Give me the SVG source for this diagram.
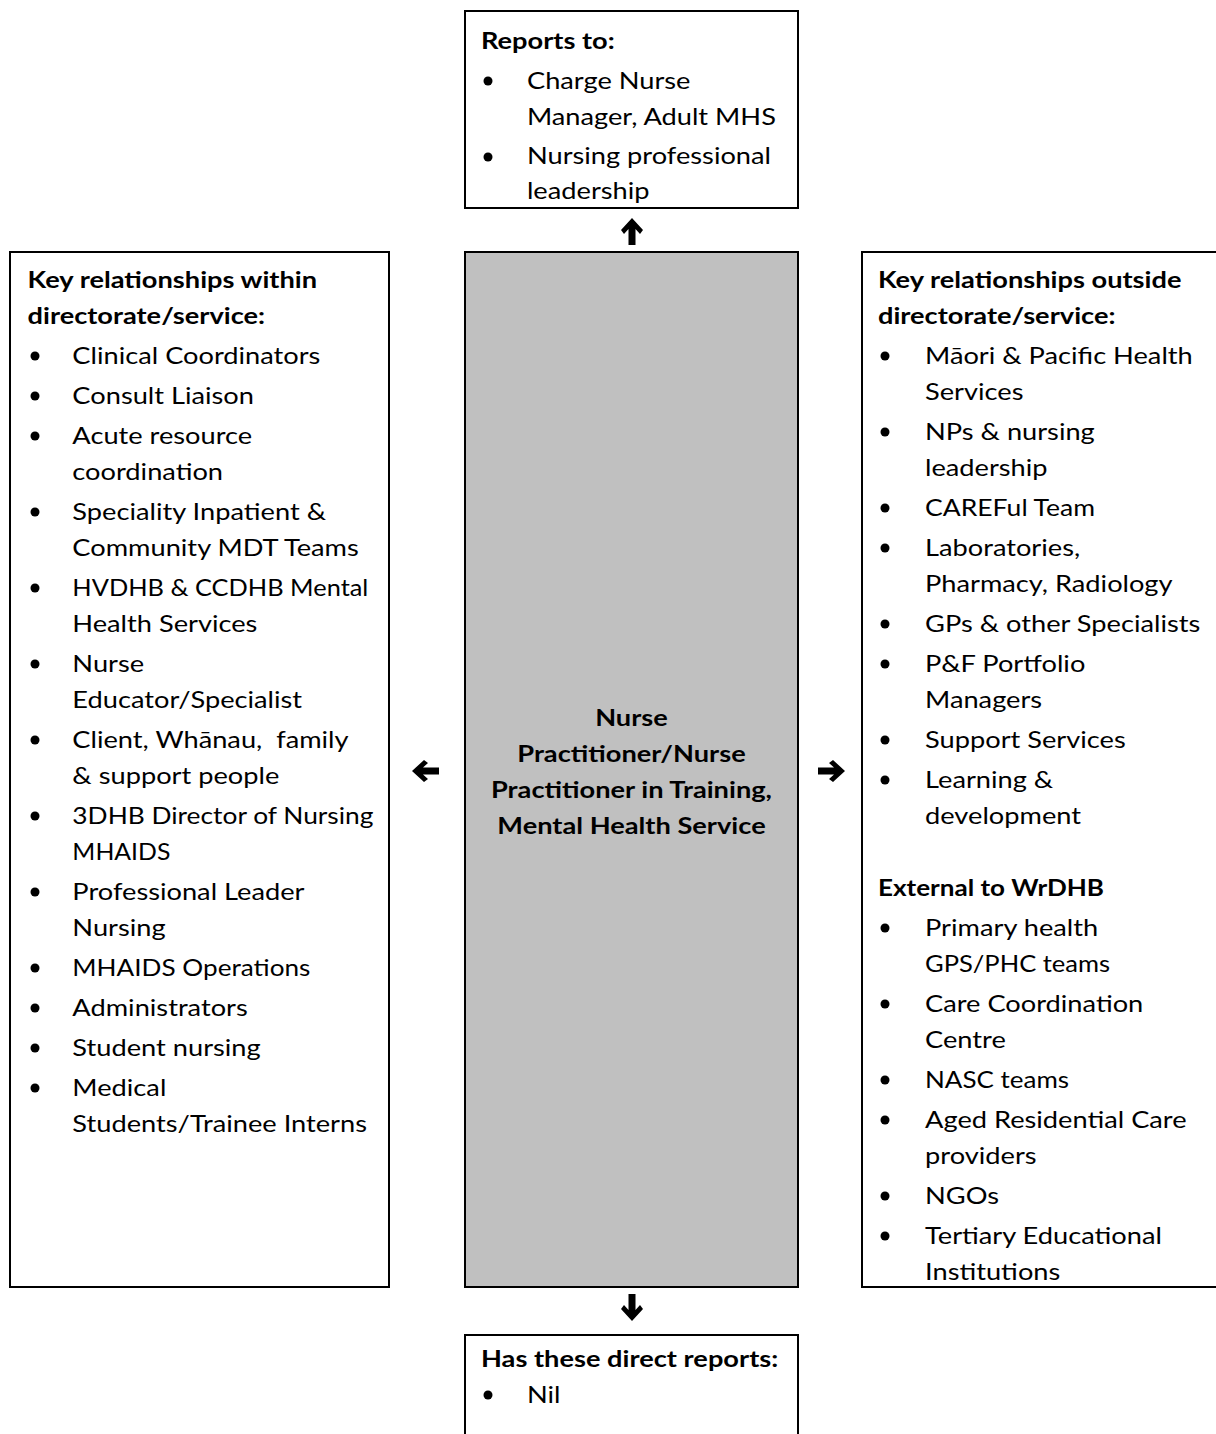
<svg xmlns="http://www.w3.org/2000/svg" width="1216" height="1434" viewBox="0 0 1216 1434">
<style>
.box{fill:#fff;stroke:#000;stroke-width:2}
.core{fill:#c0c0c0;stroke:#000;stroke-width:2}
text{font-family:Lato,"Liberation Sans",sans-serif;font-size:22.5px;fill:#000}
.h{font-weight:bold}
.c{font-weight:bold;text-anchor:middle}
.dot{fill:#000}
.arr{fill:#000}
</style>
<defs>
<path id="arrow" d="M0,0 L11,12 L8,16 L3.5,11 L3.5,27 L-3.5,27 L-3.5,11 L-8,16 L-11,12 Z"/>
</defs>
<g id="connectors">
<use class="arr" href="#arrow" transform="translate(632,218)"/>
<use class="arr" href="#arrow" transform="translate(632,1321) rotate(180)"/>
<use class="arr" href="#arrow" transform="translate(412,771) rotate(-90)"/>
<use class="arr" href="#arrow" transform="translate(845,771) rotate(90)"/>
</g>
<g id="reports-to">
<rect class="box" x="465" y="11" width="333" height="197"/>
<circle class="dot" cx="488" cy="81" r="4.5"/>
<circle class="dot" cx="488" cy="157" r="4.5"/>
<g transform="scale(1.21,1)">
<text class="h" x="397.5" y="49">Reports to:</text>
<text x="435.5" y="89">Charge Nurse</text>
<text x="435.5" y="125">Manager, Adult MHS</text>
<text x="435.5" y="164">Nursing professional</text>
<text x="435.5" y="199">leadership</text>
</g>
</g>
<g id="within">
<rect class="box" x="10" y="252" width="379" height="1035"/>
<circle class="dot" cx="35" cy="356" r="4.5"/>
<circle class="dot" cx="35" cy="396" r="4.5"/>
<circle class="dot" cx="35" cy="436" r="4.5"/>
<circle class="dot" cx="35" cy="512" r="4.5"/>
<circle class="dot" cx="35" cy="588" r="4.5"/>
<circle class="dot" cx="35" cy="664" r="4.5"/>
<circle class="dot" cx="35" cy="740" r="4.5"/>
<circle class="dot" cx="35" cy="816" r="4.5"/>
<circle class="dot" cx="35" cy="892" r="4.5"/>
<circle class="dot" cx="35" cy="968" r="4.5"/>
<circle class="dot" cx="35" cy="1008" r="4.5"/>
<circle class="dot" cx="35" cy="1048" r="4.5"/>
<circle class="dot" cx="35" cy="1088" r="4.5"/>
<g transform="scale(1.21,1)">
<text class="h" x="22.8" y="288">Key relationships within</text>
<text class="h" x="22.8" y="324">directorate/service:</text>
<text x="59.8" y="364">Clinical Coordinators</text>
<text x="59.8" y="404">Consult Liaison</text>
<text x="59.8" y="444">Acute resource</text>
<text x="59.8" y="480">coordination</text>
<text x="59.8" y="520">Speciality Inpatient &amp;</text>
<text x="59.8" y="556">Community MDT Teams</text>
<text x="59.8" y="596" textLength="244.6" lengthAdjust="spacingAndGlyphs">HVDHB &amp; CCDHB Mental</text>
<text x="59.8" y="632">Health Services</text>
<text x="59.8" y="672">Nurse</text>
<text x="59.8" y="708">Educator/Specialist</text>
<text x="59.8" y="748" xml:space="preserve">Client, Whānau,  family</text>
<text x="59.8" y="784">&amp; support people</text>
<text x="59.8" y="824" textLength="248.8" lengthAdjust="spacingAndGlyphs">3DHB Director of Nursing</text>
<text x="59.8" y="860" textLength="81" lengthAdjust="spacingAndGlyphs">MHAIDS</text>
<text x="59.8" y="900">Professional Leader</text>
<text x="59.8" y="936">Nursing</text>
<text x="59.8" y="976" textLength="196.7" lengthAdjust="spacingAndGlyphs">MHAIDS Operations</text>
<text x="59.8" y="1016">Administrators</text>
<text x="59.8" y="1056">Student nursing</text>
<text x="59.8" y="1096">Medical</text>
<text x="59.8" y="1132">Students/Trainee Interns</text>
</g>
</g>
<g id="role">
<rect class="core" x="465" y="252" width="333" height="1035"/>
<g transform="scale(1.21,1)">
<text class="c" x="521.9" y="726">Nurse</text>
<text class="c" x="521.9" y="762">Practitioner/Nurse</text>
<text class="c" x="521.9" y="798">Practitioner in Training,</text>
<text class="c" x="521.9" y="834">Mental Health Service</text>
</g>
</g>
<g id="outside">
<rect class="box" x="862" y="252" width="362" height="1035"/>
<circle class="dot" cx="885" cy="356" r="4.5"/>
<circle class="dot" cx="885" cy="432" r="4.5"/>
<circle class="dot" cx="885" cy="508" r="4.5"/>
<circle class="dot" cx="885" cy="548" r="4.5"/>
<circle class="dot" cx="885" cy="624" r="4.5"/>
<circle class="dot" cx="885" cy="664" r="4.5"/>
<circle class="dot" cx="885" cy="740" r="4.5"/>
<circle class="dot" cx="885" cy="780" r="4.5"/>
<circle class="dot" cx="885" cy="928" r="4.5"/>
<circle class="dot" cx="885" cy="1004" r="4.5"/>
<circle class="dot" cx="885" cy="1080" r="4.5"/>
<circle class="dot" cx="885" cy="1120" r="4.5"/>
<circle class="dot" cx="885" cy="1196" r="4.5"/>
<circle class="dot" cx="885" cy="1236" r="4.5"/>
<g transform="scale(1.21,1)">
<text class="h" x="725.6" y="288">Key relationships outside</text>
<text class="h" x="725.6" y="324">directorate/service:</text>
<text x="764.5" y="364">Māori &amp; Pacific Health</text>
<text x="764.5" y="400">Services</text>
<text x="764.5" y="440">NPs &amp; nursing</text>
<text x="764.5" y="476">leadership</text>
<text x="764.5" y="516" textLength="140.5" lengthAdjust="spacingAndGlyphs">CAREFul Team</text>
<text x="764.5" y="556">Laboratories,</text>
<text x="764.5" y="592">Pharmacy, Radiology</text>
<text x="764.5" y="632">GPs &amp; other Specialists</text>
<text x="764.5" y="672">P&amp;F Portfolio</text>
<text x="764.5" y="708">Managers</text>
<text x="764.5" y="748">Support Services</text>
<text x="764.5" y="788">Learning &amp;</text>
<text x="764.5" y="824">development</text>
<text class="h" x="725.6" y="896" textLength="186.8" lengthAdjust="spacingAndGlyphs">External to WrDHB</text>
<text x="764.5" y="936">Primary health</text>
<text x="764.5" y="972" textLength="152.9" lengthAdjust="spacingAndGlyphs">GPS/PHC teams</text>
<text x="764.5" y="1012">Care Coordination</text>
<text x="764.5" y="1048">Centre</text>
<text x="764.5" y="1088" textLength="119" lengthAdjust="spacingAndGlyphs">NASC teams</text>
<text x="764.5" y="1128">Aged Residential Care</text>
<text x="764.5" y="1164">providers</text>
<text x="764.5" y="1204">NGOs</text>
<text x="764.5" y="1244">Tertiary Educational</text>
<text x="764.5" y="1280">Institutions</text>
</g>
</g>
<g id="direct-reports">
<rect class="box" x="465" y="1335" width="333" height="120"/>
<circle class="dot" cx="488" cy="1395" r="4.5"/>
<g transform="scale(1.21,1)">
<text class="h" x="397.5" y="1367">Has these direct reports:</text>
<text x="435.5" y="1403">Nil</text>
</g>
</g>
</svg>
